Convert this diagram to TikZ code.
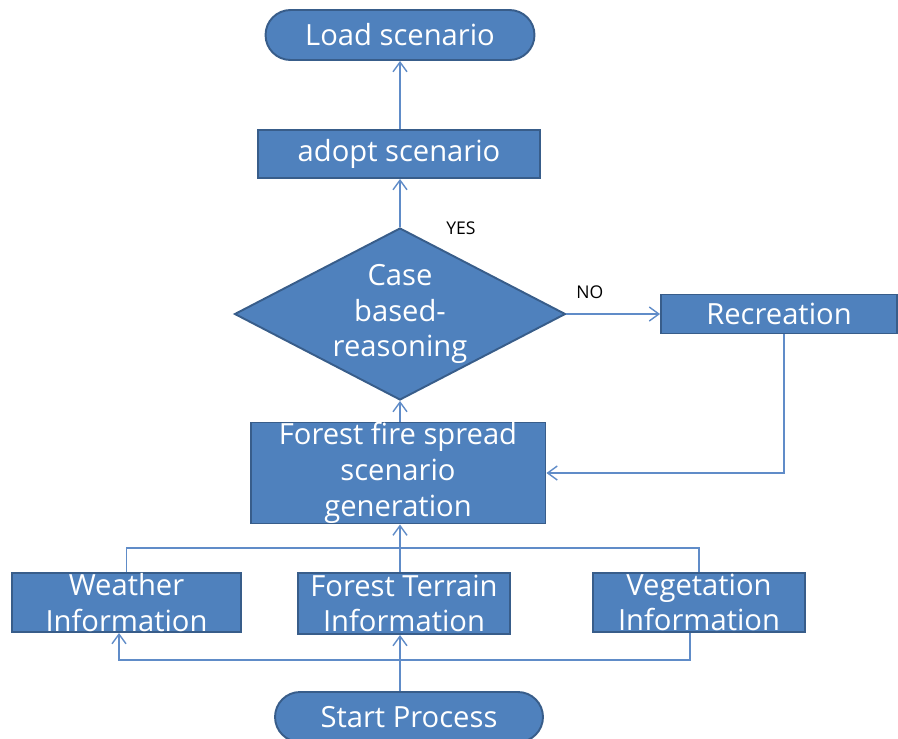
\documentclass[tikz,border=0pt]{standalone}
\usepackage{fontspec}
\setmainfont{Open Sans}
\usetikzlibrary{shapes.geometric,shapes.misc,arrows.meta}

\definecolor{boxfill}{RGB}{79,129,189}
\definecolor{boxline}{RGB}{56,93,138}
\definecolor{conline}{RGB}{96,140,200}

\begin{document}
\begin{tikzpicture}[x=0.02cm,y=-0.02cm,
		box/.style={draw=boxline, fill=boxfill, line width=1.1pt, text=white, align=center, inner sep=0pt, font=\fontsize{16.6}{20.4}\selectfont},
		term/.style={box, rounded rectangle},
		conn/.style={draw=conline, line width=0.8pt, -{Straight Barb[length=5.5pt,width=8pt]}},
		lbl/.style={font=\fontsize{10}{12}\selectfont}]
		\useasboundingbox (0,0) rectangle (898,738);
		\node[term, minimum width=5.38cm, minimum height=1.0cm] (load) at (400,35) {Load scenario};
		\node[box, minimum width=5.64cm, minimum height=0.96cm] (adopt) at (399,154) {adopt scenario};
		\node[box, diamond, minimum width=6.62cm, minimum height=3.44cm, label={[text=white, align=center, font=\fontsize{16.6}{20.4}\selectfont]center:Case\\based-\\reasoning}] (crb) at (400,314) {};
		\node[box, minimum width=4.72cm, minimum height=0.78cm] (recr) at (779,314) {Recreation};
		\node[box, minimum width=5.9cm, minimum height=1.96cm] (gen) at (398,473) {Forest fire spread\\scenario\\generation};
		\node[box, minimum width=4.58cm, minimum height=1.18cm] (weather) at (126.5,602.5) {Weather\\Information};
		\node[box, minimum width=4.24cm, minimum height=1.22cm] (terrain) at (404,603.5) {Forest Terrain\\Information};
		\node[box, minimum width=4.24cm, minimum height=1.18cm] (veg) at (699,602.5) {Vegetation\\Information};
		\node[term, minimum width=5.36cm, minimum height=1.0cm] (start) at (409,717) {Start Process};
		\node[lbl] (yes) at (461,228) {YES};

		\coordinate (lowbus) at (400,660);
		\coordinate (highbus) at (400,548);

		% start -> information boxes
		\draw[conn] (start.north -| lowbus) -- (terrain.south -| lowbus);
		\draw[conn] (lowbus) -| ([xshift=-0.15cm]weather.south);
		\draw[draw=conline, line width=0.8pt] (lowbus) -| ([xshift=-0.18cm]veg.south);
		% information boxes -> generation
		\draw[draw=conline, line width=0.8pt] (weather.north) |- (highbus) -| (veg.north);
		\draw[conn] (terrain.north -| highbus) -- (gen.south -| highbus);
		\draw[conn] (gen.north -| crb.south) -- (crb.south);
		\draw[conn] (crb.north) -- (adopt.south -| crb.north);
		\draw[conn] (adopt.north -| crb.north) -- (load.south);
		\draw[conn] (crb.east) -- (recr.west) node[lbl, pos=0.25, above=0.18cm] {NO};
		\draw[conn] ([xshift=0.1cm]recr.south) |- (gen.east);
	\end{tikzpicture}
\end{document}
